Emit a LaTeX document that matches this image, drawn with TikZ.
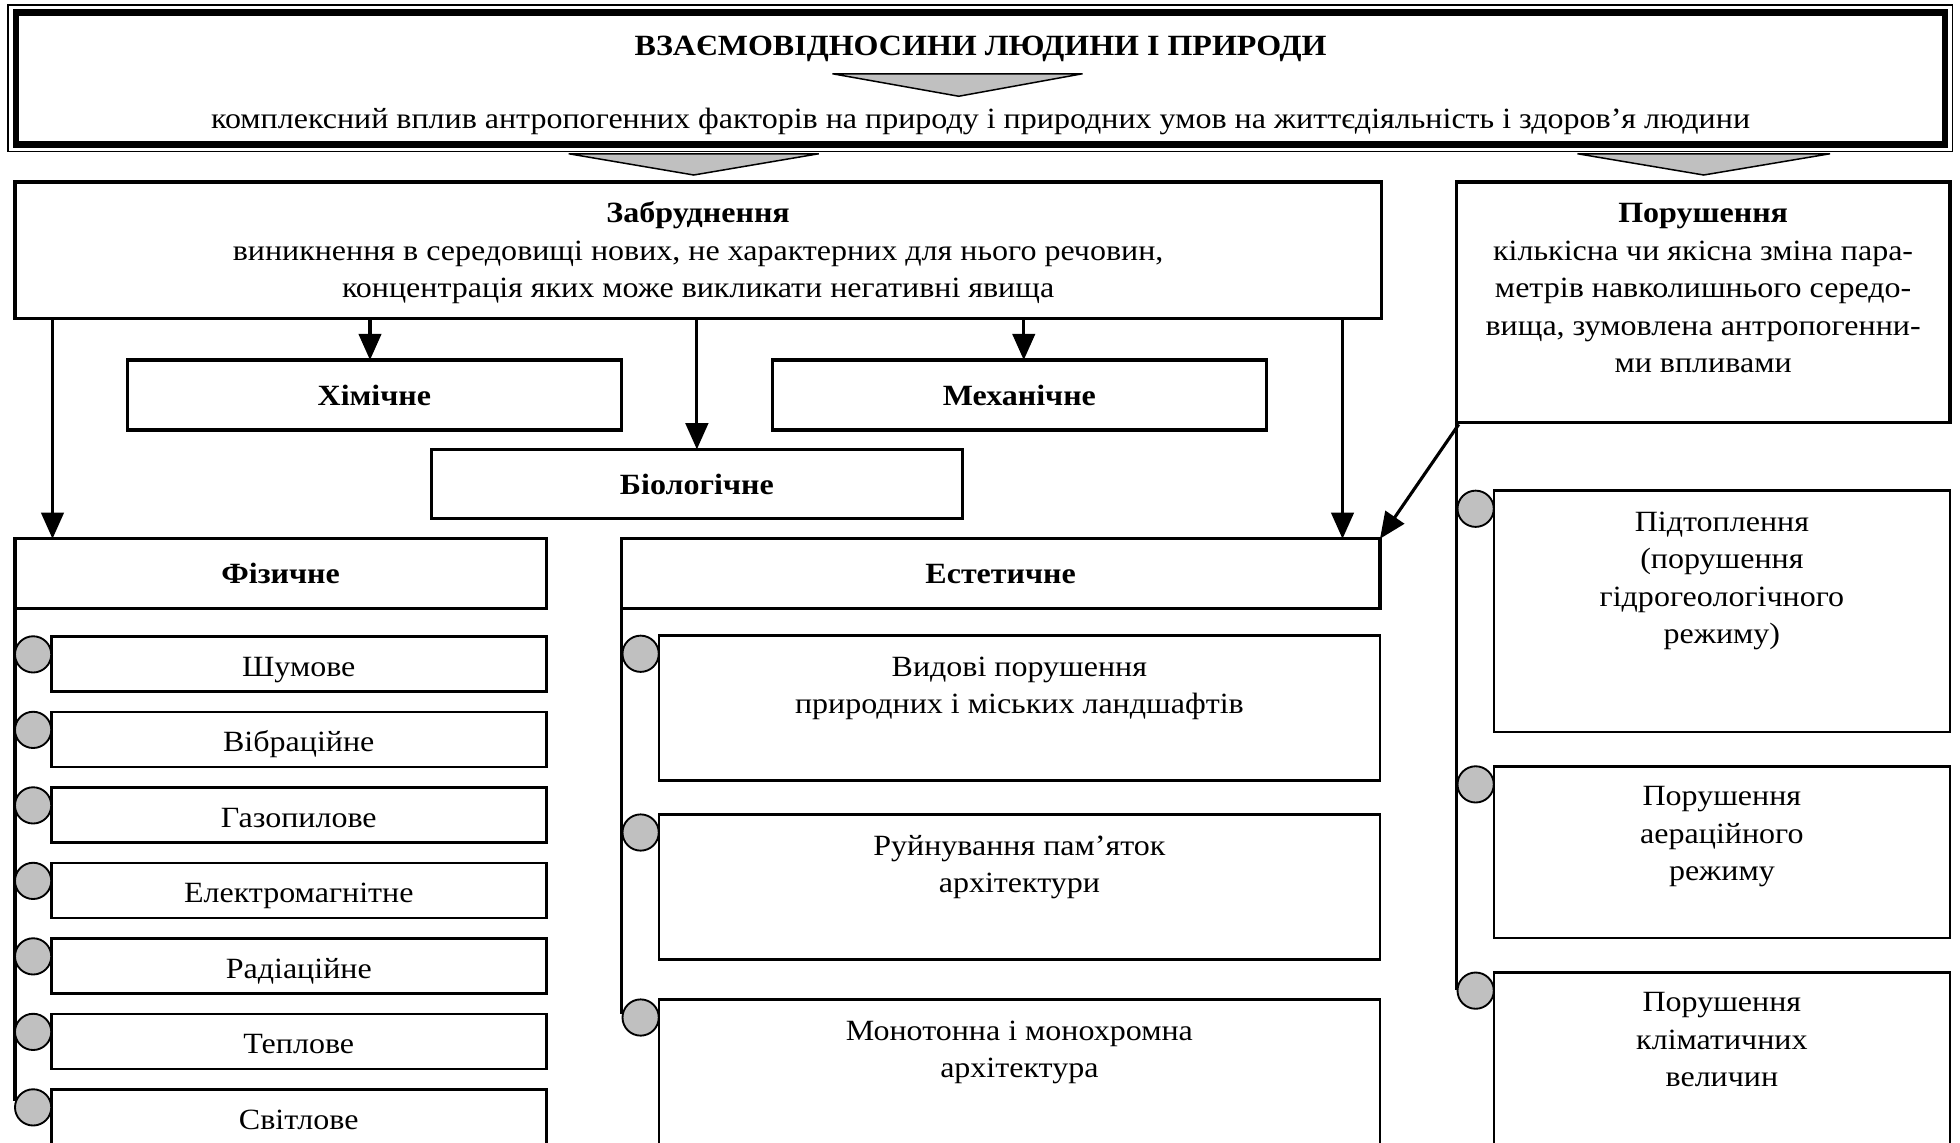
\documentclass[tikz,border=0pt]{standalone}
\usepackage{fontspec}
\setmainfont{Liberation Serif}[FakeStretch=1.09]
\usetikzlibrary{arrows.meta}
\definecolor{shade}{HTML}{C0C0C0}
\newcommand{\mlines}[1]{\begin{tabular}[t]{@{}c@{}}#1\end{tabular}}
\begin{document}
\begin{tikzpicture}[x=1pt,y=-1pt,
  every node/.style={font=\fontsize{23.5}{30}\selectfont},
  topbox/.style={draw, line width=5pt, inner sep=0pt, outer sep=0pt, anchor=north west},
  bigbox/.style={draw, line width=2.7pt, inner sep=0pt, outer sep=0pt, anchor=north west},
  midbox/.style={draw, line width=2.5pt, inner sep=0pt, outer sep=0pt, anchor=north west, font=\fontsize{23.5}{30}\selectfont\bfseries},
  subbox/.style={draw, line width=2pt, inner sep=0pt, outer sep=0pt, anchor=north west, text height=20pt, text depth=0pt},
  dot/.style={circle, draw, line width=1.5pt, fill=shade, minimum size=29pt, inner sep=0pt, outer sep=0pt},
  txt/.style={inner sep=0pt, anchor=base},
  link/.style={line width=2.5pt},
  arr/.style={line width=2.5pt, -{Triangle[width=18pt,length=21pt]}},
  tri/.style={draw, line width=1.2pt, fill=shade, line join=miter}
]
\useasboundingbox (0,0) rectangle (1568,914);
\clip (0,0) rectangle (1568,914);

% ---- top frame ----
\node[topbox, minimum width=1543pt, minimum height=105.5pt] (top) at (13,10) {};
\draw[line width=1.2pt] ([shift={(-6.5pt,6pt)}]top.north west) rectangle ([shift={(6pt,-5.5pt)}]top.south east);
\node[txt, font=\fontsize{23.5}{30}\selectfont\bfseries] (title) at ([yshift=-34pt]top.north) {ВЗАЄМОВІДНОСИНИ ЛЮДИНИ І ПРИРОДИ};
\draw[tri] (666,59) -- (866,59) -- (767,77) -- cycle;
\node[txt] (subtitle) at ([yshift=-92.5pt]top.north) {комплексний вплив антропогенних факторів на природу і природних умов на життєдіяльність і здоров’я людини};

% ---- big triangles ----
\draw[tri] (455,123) -- (655,123) -- (555,140) -- cycle;
\draw[tri] (1262,123) -- (1464,123) -- (1363,140) -- cycle;

% ---- main boxes ----
\node[bigbox, minimum width=1093pt, minimum height=109.5pt] (zab) at (12,145.5) {};
\node[txt] (zabt) at ([yshift=-32.5pt]zab.north) {\mlines{\textbf{Забруднення}\\виникнення в середовищі нових, не характерних для нього речовин,\\концентрація яких може викликати негативні явища}};

\node[bigbox, minimum width=395pt, minimum height=192.5pt] (por) at (1165,145.5) {};
\node[txt] (port) at ([yshift=-32.5pt]por.north) {\mlines{\textbf{Порушення}\\кількісна чи якісна зміна пара-\\метрів навколишнього середо-\\вища, зумовлена антропогенни-\\ми впливами}};

% ---- pollution kinds ----
\node[midbox, minimum width=395pt, minimum height=56pt] (khim) at (102,288) {Хімічне};
\node[midbox, minimum width=395pt, minimum height=56pt] (mekh) at (618,288) {Механічне};
\node[midbox, minimum width=425pt, minimum height=55.5pt] (biol) at (345,359.5) {Біологічне};
\node[midbox, minimum width=425pt, minimum height=56pt] (fiz) at (12,431) {Фізичне};
\node[midbox, minimum width=607pt, minimum height=56pt] (est) at (497,431) {Естетичне};

% ---- arrows ----
\draw[arr] ([xshift=30pt]fiz.north west |- zab.south) -- ([xshift=30pt]fiz.north west);
\draw[arr] ([xshift=-3.5pt]khim.north |- zab.south) -- ([xshift=-3.5pt]khim.north);
\draw[arr] (biol.north |- zab.south) -- (biol.north);
\draw[arr] ([xshift=3.5pt]mekh.north |- zab.south) -- ([xshift=3.5pt]mekh.north);
\draw[arr] ([xshift=-30pt]est.north east |- zab.south) -- ([xshift=-30pt]est.north east);
\draw[arr] ([shift={(2pt,-1.5pt)}]por.south west) -- (est.north east);

% ---- physical sub-kinds ----
\foreach \t [count=\i from 0] in {Шумове,Вібраційне,Газопилове,Електромагнітне,Радіаційне,Теплове,Світлове}{
  \node[subbox, minimum width=396pt, minimum height=44pt] (ph\i) at (41,{509+60.4*\i}) {\t};
}
\draw[link] (fiz.south west) -- (fiz.south west |- 0,881);
\foreach \i in {0,...,6}{
  \node[dot] (phd\i) at ([shift={(-14.5pt,-14.5pt)}]ph\i.north west) {};
}

% ---- aesthetic sub-kinds ----
\node[subbox, minimum width=577pt, minimum height=116pt] (es1) at (527,508.5) {};
\node[subbox, minimum width=577pt, minimum height=116pt] (es2) at (527,651.5) {};
\node[subbox, minimum width=577pt, minimum height=120pt] (es3) at (527,799.5) {};
\node[txt] (es1t) at ([yshift=-32.5pt]es1.north) {\mlines{Видові порушення\\природних і міських ландшафтів}};
\node[txt] (es2t) at ([yshift=-32.5pt]es2.north) {\mlines{Руйнування пам’яток\\архітектури}};
\node[txt] (es3t) at ([yshift=-32.5pt]es3.north) {\mlines{Монотонна і монохромна\\архітектура}};
\draw[link] (est.south west) -- (est.south west |- 0,811);
\node[dot] (esd1) at ([shift={(-14.5pt,-14.5pt)}]es1.north west) {};
\node[dot] (esd2) at ([shift={(-14.5pt,-14.5pt)}]es2.north west) {};
\node[dot] (esd3) at ([shift={(-14.5pt,-14.5pt)}]es3.north west) {};

% ---- disturbance sub-kinds ----
\node[subbox, minimum width=365pt, minimum height=193pt] (pd1) at (1195,392.5) {};
\node[subbox, minimum width=365pt, minimum height=137.5pt] (pd2) at (1195,613) {};
\node[subbox, minimum width=365pt, minimum height=142pt] (pd3) at (1195,778) {};
\node[txt] (pd1t) at ([yshift=-32.5pt]pd1.north) {\mlines{Підтоплення\\(порушення\\гідрогеологічного\\режиму)}};
\node[txt] (pd2t) at ([yshift=-31.5pt]pd2.north) {\mlines{Порушення\\аераційного\\режиму}};
\node[txt] (pd3t) at ([yshift=-31.5pt]pd3.north) {\mlines{Порушення\\кліматичних\\величин}};
\draw[link] (por.south west) -- (por.south west |- 0,792);
\node[dot] (pdd1) at ([shift={(-14.5pt,-14.5pt)}]pd1.north west) {};
\node[dot] (pdd2) at ([shift={(-14.5pt,-14.5pt)}]pd2.north west) {};
\node[dot] (pdd3) at ([shift={(-14.5pt,-14.5pt)}]pd3.north west) {};
\end{tikzpicture}
\end{document}
